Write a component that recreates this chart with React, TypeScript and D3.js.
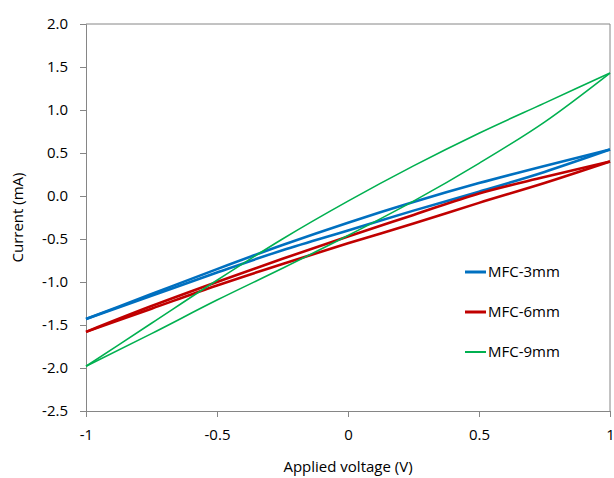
import { useEffect, useRef } from "react";
import * as d3 from "d3";

// Applied voltage sample points (V)
const voltages = [-1, -0.75, -0.5, -0.25, 0, 0.25, 0.5, 0.75, 1];

// Current (mA) on the forward sweep (lower branch) and reverse sweep (upper branch)
const mfc3Forward = [-1.43, -1.16, -0.89, -0.63, -0.4, -0.17, 0.05, 0.28, 0.54];
const mfc3Reverse = [-1.43, -1.14, -0.85, -0.57, -0.31, -0.07, 0.15, 0.35, 0.54];
const mfc6Forward = [-1.58, -1.31, -1.04, -0.79, -0.55, -0.32, -0.08, 0.15, 0.4];
const mfc6Reverse = [-1.58, -1.28, -1.0, -0.73, -0.47, -0.22, 0.03, 0.22, 0.4];
const mfc9Forward = [-1.98, -1.6, -1.21, -0.84, -0.46, -0.06, 0.38, 0.86, 1.43];
const mfc9Reverse = [-1.98, -1.48, -0.98, -0.5, -0.06, 0.35, 0.73, 1.08, 1.43];

const seriesNames = ["MFC-3mm", "MFC-6mm", "MFC-9mm"];
const seriesColors = ["#0070C0", "#C00000", "#00B050"];
const seriesWidths = [2.6, 2.6, 1.6];
const seriesData = [
  [mfc3Forward, mfc3Reverse],
  [mfc6Forward, mfc6Reverse],
  [mfc9Forward, mfc9Reverse],
];

const xTicks = [-1, -0.5, 0, 0.5, 1];
const yTicks = [-2.5, -2, -1.5, -1, -0.5, 0, 0.5, 1, 1.5, 2];

const App = () => {
  const svgRef = useRef<SVGSVGElement>(null);

  useEffect(() => {
    const svg = d3.select(svgRef.current);
    svg.selectAll("*").remove();

    const width = 614;
    const height = 478;
    const margin = { top: 24, right: 4, bottom: 67, left: 86 };
    const font = "'Open Sans', sans-serif";
    const axisColor = "#868686";
    const fmt = d3.format(".1f");

    const x = d3
      .scaleLinear()
      .domain([-1, 1])
      .range([margin.left, width - margin.right]);
    const y = d3
      .scaleLinear()
      .domain([-2.5, 2])
      .range([height - margin.bottom, margin.top]);

    svg.attr("width", width).attr("height", height);

    // frame: top and right border
    svg
      .append("path")
      .attr("d", `M${x(-1)},${y(2)}H${x(1)}V${y(-2.5)}`)
      .attr("fill", "none")
      .attr("stroke", axisColor)
      .attr("stroke-width", 1);

    // y axis
    const yAxis = svg
      .append("g")
      .attr("transform", `translate(${x(-1)},0)`)
      .call(
        d3
          .axisLeft(y)
          .tickValues(yTicks)
          .tickSize(6)
          .tickPadding(12)
          .tickFormat((d) => fmt(d as number).replace("\u2212", "-"))
      );
    yAxis.select(".domain").attr("stroke", axisColor);
    yAxis.selectAll(".tick line").attr("stroke", axisColor);
    yAxis
      .selectAll("text")
      .attr("fill", "#000")
      .attr("font-family", font)
      .attr("font-size", 15);

    // x axis
    const xAxis = svg
      .append("g")
      .attr("transform", `translate(0,${y(-2.5)})`)
      .call(
        d3
          .axisBottom(x)
          .tickValues(xTicks)
          .tickSize(6)
          .tickPadding(12)
          .tickFormat((d) => String(d))
      );
    xAxis.select(".domain").attr("stroke", axisColor);
    xAxis.selectAll(".tick line").attr("stroke", axisColor);
    xAxis
      .selectAll("text")
      .attr("fill", "#000")
      .attr("font-family", font)
      .attr("font-size", 15);

    // curves
    const line = d3
      .line<number>()
      .x((_, i) => x(voltages[i]))
      .y((d) => y(d))
      .curve(d3.curveMonotoneX);

    seriesData.forEach((branches, s) => {
      branches.forEach((vals) => {
        svg
          .append("path")
          .datum(vals)
          .attr("fill", "none")
          .attr("stroke", seriesColors[s])
          .attr("stroke-width", seriesWidths[s])
          .attr("stroke-linejoin", "round")
          .attr("d", line);
      });
    });

    // legend
    const legend = svg.append("g").attr("transform", "translate(465,272)");
    seriesNames.forEach((name, i) => {
      const row = legend.append("g").attr("transform", `translate(0,${i * 40})`);
      row
        .append("line")
        .attr("x1", 0)
        .attr("x2", 21)
        .attr("stroke", seriesColors[i])
        .attr("stroke-width", seriesWidths[i] + 0.4);
      row
        .append("text")
        .attr("x", 23)
        .attr("dy", "0.35em")
        .attr("font-family", font)
        .attr("font-size", 15)
        .attr("fill", "#000")
        .text(name);
    });

    // axis titles
    svg
      .append("text")
      .attr("x", x(0))
      .attr("y", 472)
      .attr("text-anchor", "middle")
      .attr("font-family", font)
      .attr("font-size", 15)
      .attr("fill", "#000")
      .text("Applied voltage (V)");

    svg
      .append("text")
      .attr("transform", `translate(23,${(y(-2.5) + y(2)) / 2}) rotate(-90)`)
      .attr("text-anchor", "middle")
      .attr("font-family", font)
      .attr("font-size", 15)
      .attr("fill", "#000")
      .text("Current (mA)");
  }, []);

  return (
    <svg
      ref={svgRef}
      style={{ position: "absolute", left: 0, top: 0, background: "#fff" }}
    ></svg>
  );
};

export default App;
